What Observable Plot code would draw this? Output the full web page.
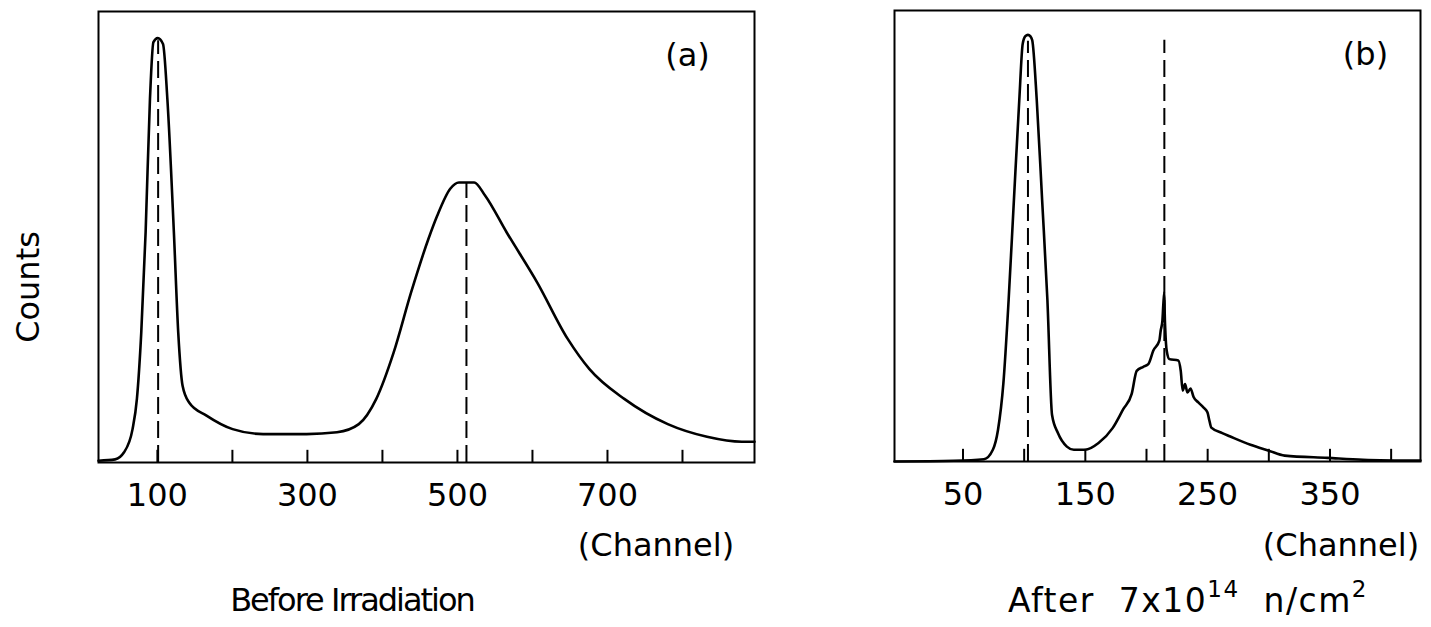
<!DOCTYPE html>
<html>
<head>
<meta charset="utf-8">
<script src="https://cdn.jsdelivr.net/npm/d3@7"></script>
<script src="https://cdn.jsdelivr.net/npm/@observablehq/plot@0.6"></script>
<style>
  html, body { margin: 0; padding: 0; background: #fff; }
  #fig { position: relative; width: 1431px; height: 627px; overflow: hidden; background: #fff;
         font-family: "DejaVu Sans", sans-serif; color: #000; }
  #fig svg { position: absolute; top: 0; }
  .lbl { position: absolute; font-size: 32px; line-height: 1; white-space: nowrap;
         transform: translate(-50%, -50%); }
  .sup { font-size: 23px; position: relative; top: -15px; }
</style>
</head>
<body>
<div id="fig"></div>
<script>
// Pulse-height spectrum before irradiation (panel a)
const channelA = [21.5, 43.7, 55.3, 66.9, 72.7, 78.5, 84.3, 90.1, 94.7, 100.5, 107.5, 113.3, 122, 127.8, 133.6, 142.3, 165.5, 200.3, 240.9, 298.9, 339.5, 368.5, 391.8, 415, 438.2, 461.4, 473, 490.4, 502, 512, 522.3, 536.8, 565.7, 606.4, 647, 676, 722.4, 780.4, 832.7, 879, 896];
const countsA = [0.4, 0.7, 2.2, 7.4, 14.1, 28.8, 51, 80.6, 93.2, 94.1, 92.8, 80.6, 51, 28.8, 17, 13.3, 10.4, 7.4, 6.3, 6.3, 6.7, 8.5, 14.1, 24.4, 37.7, 49.6, 54.7, 60.7, 62.1, 62.1, 62.1, 59.2, 51, 39.9, 27.4, 20.7, 14.1, 8.5, 5.7, 4.6, 4.6];

// Spectrum after 7x10^14 n/cm^2 (panel b)
const channelB = [-6, 42.6, 67.1, 74.4, 78.6, 83, 87.3, 91.6, 96, 98.8, 101, 103.1, 105, 106.6, 110.3, 114.7, 119, 122.8, 127.6, 134.9, 140.6, 149.8, 160.8, 172.3, 181, 187.9, 192, 197.4, 201.5, 205.6, 210.5, 211.6, 213, 213.8, 214.6, 214.9, 215.4, 216.5, 218.7, 226, 228, 229.6, 231.5, 233.5, 236, 238.5, 242.4, 246.5, 249.8, 251.4, 253, 262, 268, 285, 300, 313, 348, 377, 424];
const countsB = [0, 0.15, 0.5, 2.6, 7, 17.3, 35.8, 57.9, 80.1, 92.6, 94.3, 94.6, 94.3, 93.4, 80.1, 57.9, 35.8, 10.3, 6.3, 3.3, 2.6, 2.6, 4.1, 7.4, 11.6, 15, 20.1, 21, 21.6, 24.6, 26.8, 29, 31.2, 35, 37.5, 32.8, 29, 24.6, 22.7, 22.4, 20.1, 15.7, 17.2, 15.3, 16.2, 14.3, 13.1, 12, 10.9, 9.1, 7.5, 6.3, 5.6, 3.7, 2.4, 1.3, 0.8, 0.4, 0.2];

// Peak position markers (dashed) and their heights
const peaksA = [101, 512];
const peakTopsA = [93.5, 62.1];
const peaksB = [103.1, 214.6];
const peakTopsB = [93.2, 93.4];

// Axis ticks and labelled ticks
const ticksA = [100, 200, 300, 400, 500, 600, 700, 800];
const tickLabelsA = [100, 300, 500, 700];
const ticksB = [50, 100, 150, 200, 250, 300, 350, 400];
const tickLabelsB = [50, 150, 250, 350];

const tickLen = 2.7;   // inward tick length in count units
const ink = "#000";

function panel({channel, counts, peaks, peakTops, ticks, tickLabels, domain, tag, tagDx,
                width, marginLeft, marginRight, marginTop, marginBottom}) {
  const rows = channel.map((x, i) => ({x, y: counts[i]}));
  const markers = peaks.map((x, i) => ({x, top: peakTops[i]}));
  return Plot.plot({
    width, height: 627, marginLeft, marginRight, marginTop, marginBottom,
    style: {fontFamily: "DejaVu Sans", fontSize: "32px", color: ink, background: "transparent", overflow: "visible"},
    x: {domain, label: null},
    y: {domain: [0, 100], axis: null},
    marks: [
      Plot.ruleX(ticks, {x: d => d, y1: 0, y2: tickLen, stroke: ink, strokeWidth: 2}),
      Plot.ruleX(markers, {x: "x", y1: 0, y2: "top", stroke: ink, strokeWidth: 2, strokeDasharray: "17,7"}),
      Plot.line(rows, {x: "x", y: "y", curve: "monotone-x", stroke: ink, strokeWidth: 2.6}),
      Plot.frame({stroke: ink, strokeWidth: 2}),
      Plot.axisX(tickLabels, {tickSize: 0, tickPadding: 21, tickFormat: d => String(d), label: null, fontSize: 32, fill: ink}),
      Plot.text([tag], {frameAnchor: "top-right", dx: tagDx, dy: 44, textAnchor: "middle", lineAnchor: "middle", fontSize: 32, fill: ink})
    ]
  });
}

const fig = document.getElementById("fig");

const a = panel({channel: channelA, counts: countsA, peaks: peaksA, peakTops: peakTopsA,
  ticks: ticksA, tickLabels: tickLabelsA, domain: [21.5, 896], tag: "(a)", tagDx: -67,
  width: 800, marginLeft: 98, marginRight: 46, marginTop: 11, marginBottom: 165});
a.style.left = "0px";
fig.appendChild(a);

const b = panel({channel: channelB, counts: countsB, peaks: peaksB, peakTops: peakTopsB,
  ticks: ticksB, tickLabels: tickLabelsB, domain: [-6, 424], tag: "(b)", tagDx: -55,
  width: 631, marginLeft: 94, marginRight: 11, marginTop: 10, marginBottom: 166});
b.style.left = "800px";
fig.appendChild(b);

// Axis titles and captions
function label(html, x, y, css) {
  const d = document.createElement("div");
  d.className = "lbl";
  d.innerHTML = html;
  d.style.left = x + "px";
  d.style.top = y + "px";
  Object.assign(d.style, css || {});
  fig.appendChild(d);
}
label("Counts", 28, 287, {transform: "translate(-50%, -50%) rotate(-90deg)"});
label("(Channel)", 656, 545);
label("(Channel)", 1341, 545);
label("Before Irradiation", 352, 600, {letterSpacing: "-2px"});
label('After 7x10<span class="sup">14</span> n/cm<span class="sup">2</span>', 1188, 600,
      {fontSize: "33px", letterSpacing: "1.5px", wordSpacing: "12px"});
</script>
</body>
</html>
